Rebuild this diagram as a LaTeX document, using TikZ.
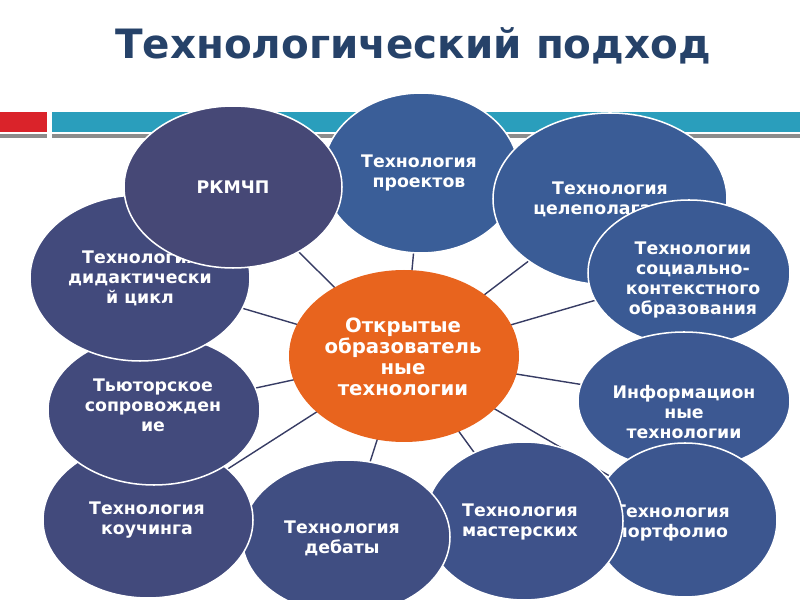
\documentclass[tikz,border=0pt]{standalone}
\usepackage{fontspec}
\setmainfont{DejaVu Sans}
\usetikzlibrary{shapes.geometric,backgrounds}
\definecolor{titlec}{RGB}{38,66,105}
\definecolor{redbar}{RGB}{218,35,42}
\definecolor{tealbar}{RGB}{42,158,188}
\definecolor{graybar}{RGB}{140,140,140}
\definecolor{linec}{RGB}{55,60,100}
\definecolor{orangec}{RGB}{232,100,30}
\definecolor{cA}{RGB}{70,72,118}
\definecolor{cB}{RGB}{66,74,124}
\definecolor{cC}{RGB}{64,78,130}
\definecolor{cD}{RGB}{62,82,138}
\definecolor{cE}{RGB}{60,86,143}
\definecolor{cF}{RGB}{60,88,146}
\definecolor{cG}{RGB}{58,90,148}
\definecolor{cH}{RGB}{58,92,150}
\definecolor{cI}{RGB}{58,94,152}
\begin{document}
\begin{tikzpicture}[x=0.03cm,y=-0.03cm,
  bub/.style n args={2}{ellipse, draw=white, line width=1.3pt,
    minimum width=#1*0.06cm, minimum height=#2*0.06cm, inner sep=0pt},
  txt/.style={text=white, font=\bfseries\fontsize{14.8}{17}\selectfont, align=center, inner sep=0pt},
  ctxt/.style={text=white, font=\bfseries\fontsize{16.8}{18}\selectfont, align=center, inner sep=0pt},
  conn/.style={draw=linec, line width=1.2pt}]
\useasboundingbox (0,0) rectangle (800,600);
\clip (0,0) rectangle (800,600);
% title
\node[font=\bfseries\fontsize{34.5}{40}\selectfont, text=titlec] (title) at (413,46) {Технологический подход};
% header bars
\fill[redbar] (0,112) rectangle (47,132);
\fill[tealbar] (52,112) rectangle (800,132);
\fill[graybar] (0,134) rectangle (47,138);
\fill[graybar] (52,134) rectangle (800,138);
% bubbles, bottom to top
\node[bub={98}{80}, fill=cI] (proj) at (421,173) {};
\node[txt] (tproj) at (419,173) {Технология\\проектов};
\node[bub={117}{86}, fill=cH] (goal) at (610,199) {};
\node[txt] (tgoal) at (610,199) {Технология\\целеполагания};
\node[bub={101}{73}, fill=cG] (soc) at (689,273) {};
\node[txt] (tsoc) at (693,280) {Технологии\\социально-\\контекстного\\образования};
\node[bub={106}{69}, fill=cF] (info) at (684,401) {};
\node[txt] (tinfo) at (684,412) {Информацион\\ные\\технологии};
\node[bub={92}{77}, fill=cE] (port) at (685,520) {};
\node[txt] (tport) at (672,523) {Технология\\портфолио};
\node[bub={99}{79}, fill=cD] (mast) at (524,521) {};
\node[txt] (tmast) at (520,522) {Технология\\мастерских};
\node[bub={104}{77}, fill=cC] (deb) at (346,537) {};
\node[txt] (tdeb) at (342,538) {Технология\\дебаты};
\node[bub={105}{78}, fill=cB] (coach) at (148,520) {};
\node[txt] (tcoach) at (147,520) {Технология\\коучинга};
\node[bub={106}{75}, fill=cB] (tut) at (154,410) {};
\node[txt] (ttut) at (153,405) {Тьюторское\\сопровожден\\ие};
\node[bub={110}{83}, fill=cB] (did) at (140,278) {};
\node[txt] (tdid) at (140,278) {Технология\\дидактически\\й цикл};
\node[bub={109}{81}, fill=cA] (rk) at (233,187) {};
\node[txt] (trk) at (233,187) {РКМЧП};
% centre
\node[ellipse, fill=orangec, minimum width=230*0.03cm, minimum height=172*0.03cm, inner sep=0pt] (cen) at (404,356) {};
\node[ctxt] (tcen) at (403,357) {Открытые\\образователь\\ные\\технологии};
% connectors behind everything
\begin{pgfonlayer}{background}
\foreach \b in {proj,goal,soc,info,port,mast,deb,coach,tut,did,rk}
  \draw[conn] (cen.center) -- (\b.center);
\end{pgfonlayer}
\end{tikzpicture}
\end{document}
